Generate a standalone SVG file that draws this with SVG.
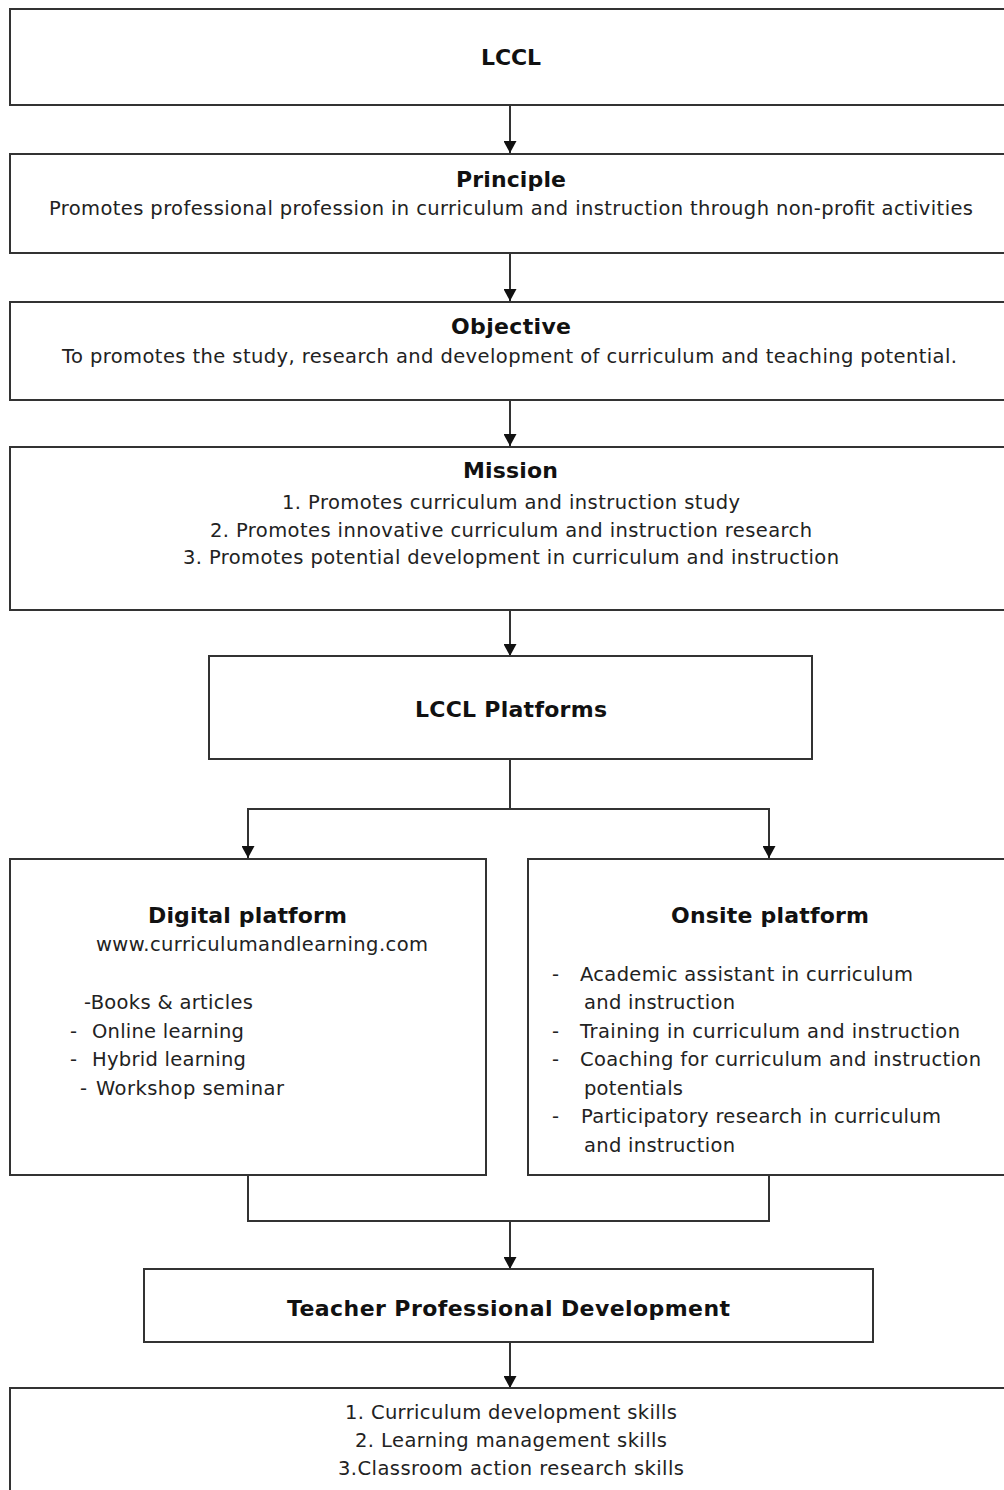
<svg xmlns="http://www.w3.org/2000/svg" width="1004" height="1490" viewBox="0 0 1004 1490">
<style>
.box{fill:#fff;stroke:#333;stroke-width:2}
.t{font-family:"DejaVu Sans",Verdana,sans-serif;font-size:19.5px;fill:#222}
.b{font-family:"DejaVu Sans",Verdana,sans-serif;font-size:22px;font-weight:bold;fill:#111}
.c{text-anchor:middle}
.ln{fill:none;stroke:#333;stroke-width:2}
</style>
<defs>
<marker id="ah" viewBox="0 0 12 13" refX="12" refY="6.5" markerWidth="12" markerHeight="13" markerUnits="userSpaceOnUse" orient="auto">
<path d="M0,0 L12,6.5 L0,13 Z" fill="#111"/>
</marker>
</defs>
<rect width="1004" height="1490" fill="#fff"/>
<g id="connectors">
<line class="ln" x1="510" y1="105" x2="510" y2="153" marker-end="url(#ah)"/>
<line class="ln" x1="510" y1="253" x2="510" y2="301" marker-end="url(#ah)"/>
<line class="ln" x1="510" y1="400" x2="510" y2="446" marker-end="url(#ah)"/>
<line class="ln" x1="510" y1="610" x2="510" y2="656" marker-end="url(#ah)"/>
<polyline class="ln" points="510,759 510,809 248,809"/>
<line class="ln" x1="248" y1="808" x2="248" y2="858" marker-end="url(#ah)"/>
<line class="ln" x1="510" y1="809" x2="769" y2="809"/>
<line class="ln" x1="769" y1="808" x2="769" y2="858" marker-end="url(#ah)"/>
<polyline class="ln" points="248,1175 248,1221 769,1221 769,1175"/>
<line class="ln" x1="510" y1="1221" x2="510" y2="1269" marker-end="url(#ah)"/>
<line class="ln" x1="510" y1="1342" x2="510" y2="1388" marker-end="url(#ah)"/>
</g>
<g id="lccl">
<rect class="box" x="10" y="9" width="1010" height="96"/>
<text class="b c" x="511" y="65" textLength="60">LCCL</text>
</g>
<g id="principle">
<rect class="box" x="10" y="154" width="1010" height="99"/>
<text class="b c" x="511" y="187" textLength="110">Principle</text>
<text class="t c" x="511" y="215" textLength="924">Promotes professional profession in curriculum and instruction through non-profit activities</text>
</g>
<g id="objective">
<rect class="box" x="10" y="302" width="1010" height="98"/>
<text class="b c" x="511" y="334" textLength="120">Objective</text>
<text class="t c" x="509.5" y="363" textLength="895">To promotes the study, research and development of curriculum and teaching potential.</text>
</g>
<g id="mission">
<rect class="box" x="10" y="447" width="1010" height="163"/>
<text class="b c" x="510.5" y="478" textLength="95">Mission</text>
<text class="t c" x="511" y="509" textLength="458">1. Promotes curriculum and instruction study</text>
<text class="t c" x="511" y="537" textLength="602">2. Promotes innovative curriculum and instruction research</text>
<text class="t c" x="511" y="564" textLength="656">3. Promotes potential development in curriculum and instruction</text>
</g>
<g id="platforms">
<rect class="box" x="209" y="656" width="603" height="103"/>
<text class="b c" x="511" y="717" textLength="192">LCCL Platforms</text>
</g>
<g id="digital">
<rect class="box" x="10" y="859" width="476" height="316"/>
<text class="b c" x="247.5" y="923" textLength="199">Digital platform</text>
<text class="t c" x="262" y="951" textLength="332">www.curriculumandlearning.com</text>
<text class="t" x="84" y="1009" textLength="169">-Books &amp; articles</text>
<text class="t" x="70" y="1038">-</text>
<text class="t" x="92" y="1038" textLength="152">Online learning</text>
<text class="t" x="70" y="1066">-</text>
<text class="t" x="92" y="1066" textLength="154">Hybrid learning</text>
<text class="t" x="80" y="1095">-</text>
<text class="t" x="96" y="1095" textLength="188">Workshop seminar</text>
</g>
<g id="onsite">
<rect class="box" x="528" y="859" width="490" height="316"/>
<text class="b c" x="770" y="923" textLength="198">Onsite platform</text>
<text class="t" x="552" y="981">-</text>
<text class="t" x="580" y="981" textLength="333">Academic assistant in curriculum</text>
<text class="t" x="584" y="1009" textLength="151">and instruction</text>
<text class="t" x="552" y="1038">-</text>
<text class="t" x="580" y="1038" textLength="380">Training in curriculum and instruction</text>
<text class="t" x="552" y="1066">-</text>
<text class="t" x="580" y="1066" textLength="401">Coaching for curriculum and instruction</text>
<text class="t" x="584" y="1095" textLength="99">potentials</text>
<text class="t" x="552" y="1123">-</text>
<text class="t" x="581" y="1123" textLength="360">Participatory research in curriculum</text>
<text class="t" x="584" y="1152" textLength="151">and instruction</text>
</g>
<g id="tpd">
<rect class="box" x="144" y="1269" width="729" height="73"/>
<text class="b c" x="508.5" y="1316" textLength="443">Teacher Professional Development</text>
</g>
<g id="skills">
<rect class="box" x="10" y="1388" width="1010" height="120"/>
<text class="t c" x="511" y="1419" textLength="332">1. Curriculum development skills</text>
<text class="t c" x="511" y="1447" textLength="312">2. Learning management skills</text>
<text class="t c" x="511" y="1475" textLength="346">3.Classroom action research skills</text>
</g>
</svg>
